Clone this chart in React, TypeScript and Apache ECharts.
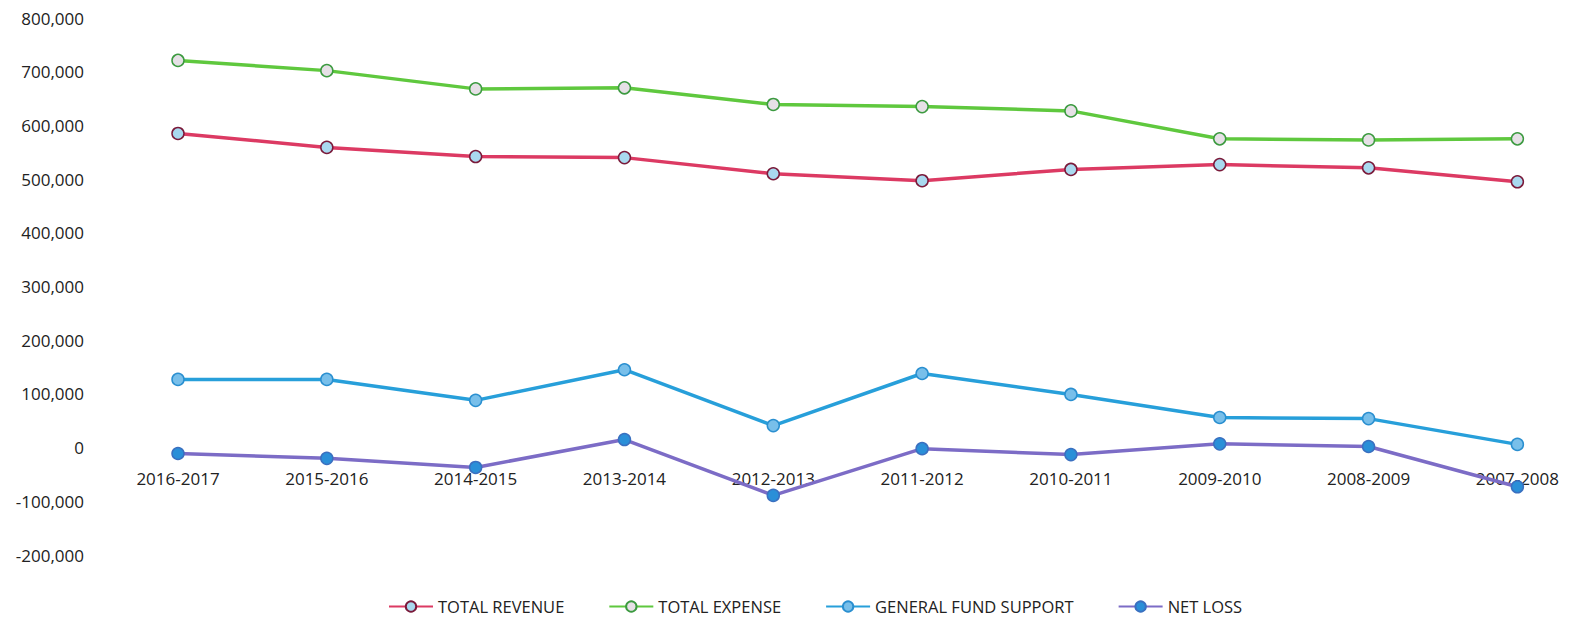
import React, { useEffect, useRef } from "react";
import * as echarts from "echarts";

const categories = ["2016-2017", "2015-2016", "2014-2015", "2013-2014", "2012-2013", "2011-2012", "2010-2011", "2009-2010", "2008-2009", "2007-2008"];
const totalRevenue = [585000, 559000, 542000, 540000, 510000, 497000, 518000, 527000, 521000, 495000];
const totalExpense = [721000, 702000, 668000, 670000, 639000, 635000, 627000, 575000, 573000, 575000];
const generalFundSupport = [127000, 127000, 88000, 145000, 41000, 138000, 99000, 56000, 54000, 6000];
const netLoss = [-11000, -20000, -37000, 15000, -89000, -2000, -13000, 7000, 2000, -73000];

const FONT = "'Open Sans', sans-serif";
const Y_MIN = -200000;
const Y_MAX = 800000;

export default function App() {
  const ref = useRef<HTMLDivElement>(null);
  useEffect(() => {
    if (!ref.current) return;
    const chart = echarts.init(ref.current, null, { renderer: "svg" });
    const H = 615;
    const top = 10;
    const bottom = 68;
    const plotH = H - top - bottom;
    const zeroOffset = -plotH * ((0 - Y_MIN) / (Y_MAX - Y_MIN));
    const mk = (name: string, data: number[], line: string, fill: string, border: string) => ({
      name,
      type: "line",
      data,
      symbol: "circle",
      symbolSize: 12,
      lineStyle: { color: line, width: 3.5 },
      itemStyle: { color: fill, borderColor: border, borderWidth: 1.5 },
      emphasis: { disabled: true },
    });
    chart.setOption({
      animation: false,
      grid: { left: 170, right: 42, top, bottom, containLabel: false },
      legend: {
        bottom: 3,
        left: 375,
        itemWidth: 44,
        itemHeight: 13,
        itemGap: 44,
        textStyle: { fontFamily: FONT, fontSize: 16.5, color: "#222" },
        data: ["TOTAL REVENUE", "TOTAL EXPENSE", "GENERAL FUND SUPPORT", "NET LOSS"],
      },
      xAxis: {
        type: "category",
        data: categories,
        boundaryGap: false,
        position: "bottom",
        offset: zeroOffset,
        axisLine: { show: false, onZero: false },
        axisTick: { show: false },
        axisLabel: { fontFamily: FONT, fontSize: 17, color: "#222", margin: 22, interval: 0 },
      },
      yAxis: {
        type: "value",
        min: Y_MIN,
        max: Y_MAX,
        interval: 100000,
        splitLine: { show: false },
        axisLine: { show: false },
        axisTick: { show: false },
        axisLabel: {
          fontFamily: FONT,
          fontSize: 17,
          color: "#222",
          margin: 94,
          formatter: (v: number) => v.toLocaleString("en-US"),
        },
      },
      series: [
        mk("TOTAL REVENUE", totalRevenue, "#dc3a63", "#a9d9ef", "#7a1a3a"),
        mk("TOTAL EXPENSE", totalExpense, "#5fc83e", "#e6e0e6", "#3c9a40"),
        mk("GENERAL FUND SUPPORT", generalFundSupport, "#279fda", "#78bfea", "#2a8fd0"),
        mk("NET LOSS", netLoss, "#7c6cc6", "#2a8fd8", "#3a70c0"),
      ],
    });
    return () => chart.dispose();
  }, []);
  return <div ref={ref} style={{ width: 1554, height: 615 }} />;
}
